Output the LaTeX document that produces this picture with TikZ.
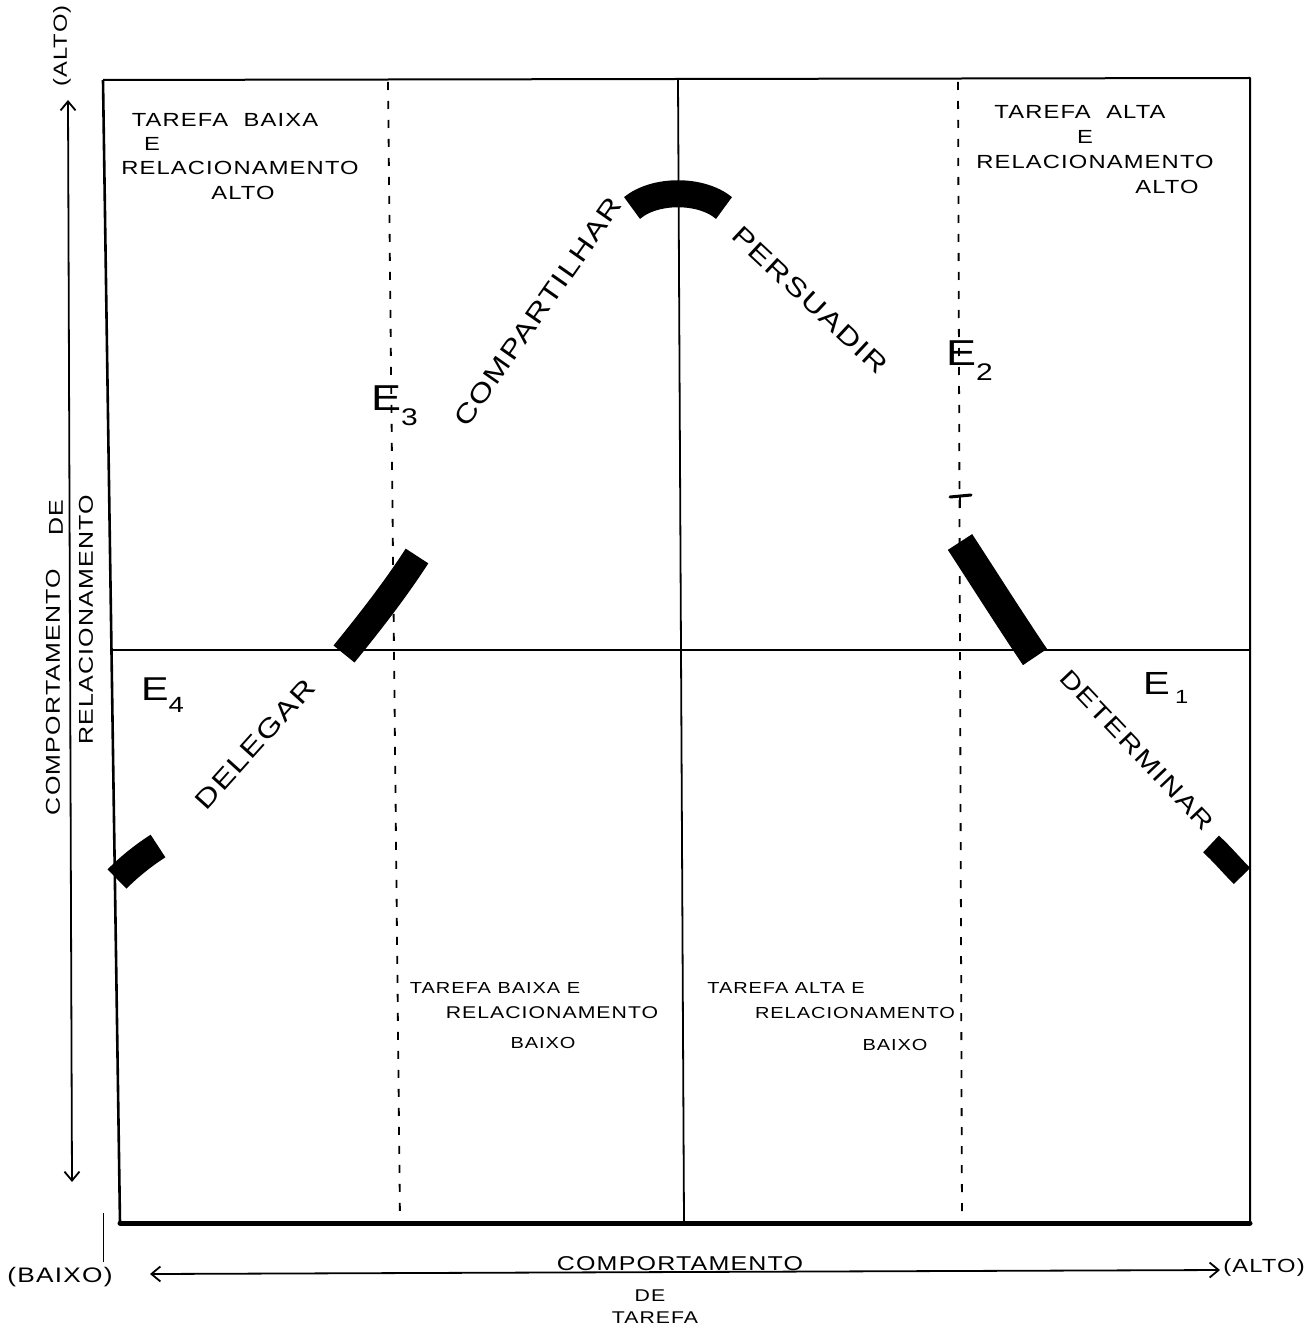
\documentclass[tikz,border=0pt]{standalone}
\usepackage{fontspec}
\setmainfont[FakeStretch=1.25,LetterSpace=6]{Liberation Sans}
\usetikzlibrary{arrows.meta}
\newcommand\myfs[1]{\fontsize{#1}{#1}\selectfont}
\begin{document}
\begin{tikzpicture}[x=1pt,y=-1pt,
  frameline/.style={line width=2pt,line join=round},
  baseline/.style={line width=5pt,line cap=round},
  midline/.style={line width=1.8pt},
  dashline/.style={line width=1.8pt,dash pattern=on 8pt off 11pt},
  axis/.style={line width=1.8pt,{Straight Barb[length=9pt,width=15pt,line width=1.8pt]}-{Straight Barb[length=9pt,width=15pt,line width=1.8pt]}},
  band/.style={line width=27pt,line cap=butt},
  qtext/.style={font=\myfs{19},inner sep=0pt},
  btext/.style={font=\myfs{16},inner sep=0pt},
  ctext/.style={font=\myfs{26},inner sep=0pt},
  etext/.style={font=\myfs{36},inner sep=0pt},
  atext/.style={font=\myfs{20},inner sep=0pt}]
\useasboundingbox (0,0) rectangle (1312,1332);

% frame corners
\coordinate (TL) at (103,80);
\coordinate (TR) at (1250,78);
\coordinate (BR) at (1250,1223);
\coordinate (BL) at (120,1223);
\draw[frameline] (TL) -- (TR) -- (BR);
\draw[frameline,line width=2.6pt] (BL) -- (TL);
\draw[baseline] (BL) -- (BR);

% centre lines
\coordinate (vt) at (678,80);
\coordinate (vb) at (684,1223);
\coordinate (hl) at (112,650);
\coordinate (hr) at (1250,650);
\draw[midline] (vt) -- (vb);
\draw[midline] (hl) -- (hr);

% dashed lines
\coordinate (d1t) at (388,82);
\coordinate (d1b) at (400,1221);
\coordinate (d2t) at (958,82);
\coordinate (d2b) at (962,1221);
\draw[dashline] (d1t) -- (d1b);
\draw[dashline] (d2t) -- (d2b);
\coordinate (tk1) at (950,497);
\coordinate (tk2) at (971,495);
\coordinate (tk3) at (960,497);
\coordinate (tk4) at (960,508);
\draw[line width=3pt,line cap=round] (tk1) -- (tk2);
\draw[line width=2.5pt] (tk3) -- (tk4);

% stray tick left of bottom axis
\coordinate (st1) at (103,1213);
\coordinate (st2) at (103,1262);
\draw[line width=1pt] (st1) -- (st2);

% axes
\coordinate (ya) at (68,100);
\coordinate (yb) at (72,1182);
\draw[axis] (ya) -- (yb);
\coordinate (xa) at (150,1274);
\coordinate (xb) at (1220,1270);
\draw[axis] (xa) -- (xb);

% thick curve pieces
\draw[band] (117,879) .. controls (130,866) and (144,855) .. (158,846);
\draw[band] (344,654) .. controls (370,622) and (395,590) .. (417,556);
\draw[band] (632,208) .. controls (655,189) and (701,189) .. (724,208);
\draw[band,line width=29pt] (960,542) .. controls (986,582) and (1010,620) .. (1035,657);
\draw[band,line width=23pt] (1211,844) .. controls (1222,854) and (1232,866) .. (1242,876);

% curve labels
\node[ctext,rotate=55] (comp) at (538,312) {COMPARTILHAR};
\node[ctext,rotate=-43] (pers) at (810,300) {PERSUADIR};
\node[ctext,rotate=48,font=\myfs{26}] (dele) at (255,744) {DELEGAR};
\node[ctext,rotate=-46.5,font=\myfs{24}] (dete) at (1137,750) {DETERMINAR};

% style labels
\node[etext,anchor=south west] (e3) at (371,426) {E\raisebox{-15pt}{\myfs{24}3}};
\node[etext,anchor=south west] (e2) at (946,381) {E\raisebox{-15pt}{\myfs{24}2}};
\node[etext,font=\myfs{33},anchor=south west] (e4) at (141,713) {E\raisebox{-12pt}{\myfs{22}4}};
\node[etext,font=\myfs{32},anchor=south west] (e1) at (1143,704) {E\,\raisebox{-9pt}{\myfs{19}1}};

% quadrant texts
\node[qtext] (tl1) at (225,120) {TAREFA\ \ BAIXA};
\node[qtext] (tl2) at (152,144) {E};
\node[qtext] (tl3) at (240,168) {RELACIONAMENTO};
\node[qtext] (tl4) at (243,193) {ALTO};

\node[qtext] (tr1) at (1080,112) {TAREFA\ \ ALTA};
\node[qtext] (tr2) at (1085,137) {E};
\node[qtext] (tr3) at (1095,162) {RELACIONAMENTO};
\node[qtext] (tr4) at (1167,187) {ALTO};

\node[btext] (bl1) at (495,988) {TAREFA BAIXA E};
\node[btext,font=\myfs{17}] (bl2) at (552,1013) {RELACIONAMENTO};
\node[btext] (bl3) at (543,1043) {BAIXO};

\node[btext] (br1) at (786,988) {TAREFA ALTA E};
\node[btext,font=\myfs{16}] (br2) at (855,1013) {RELACIONAMENTO};
\node[btext] (br3) at (895,1045) {BAIXO};

% axis texts
\node[atext,rotate=90] (yl1) at (53,692) {COMPORTAMENTO};
\node[atext,rotate=90] (yl2) at (56,518) {DE};
\node[atext,rotate=90] (yl3) at (86,620) {RELACIONAMENTO};
\node[atext,font=\myfs{19},rotate=90] (yalto) at (62,46) {(ALTO)};

\node[atext,anchor=south] (xl1) at (680,1271) {COMPORTAMENTO};
\node[atext,font=\myfs{17}] (xl2) at (650,1296) {DE};
\node[atext,font=\myfs{17}] (xl3) at (655,1318) {TAREFA};
\node[atext,font=\myfs{21}] (xbaixo) at (60,1277) {(BAIXO)};
\node[atext,font=\myfs{19}] (xalto) at (1264,1268) {(ALTO)};
\end{tikzpicture}
\end{document}
